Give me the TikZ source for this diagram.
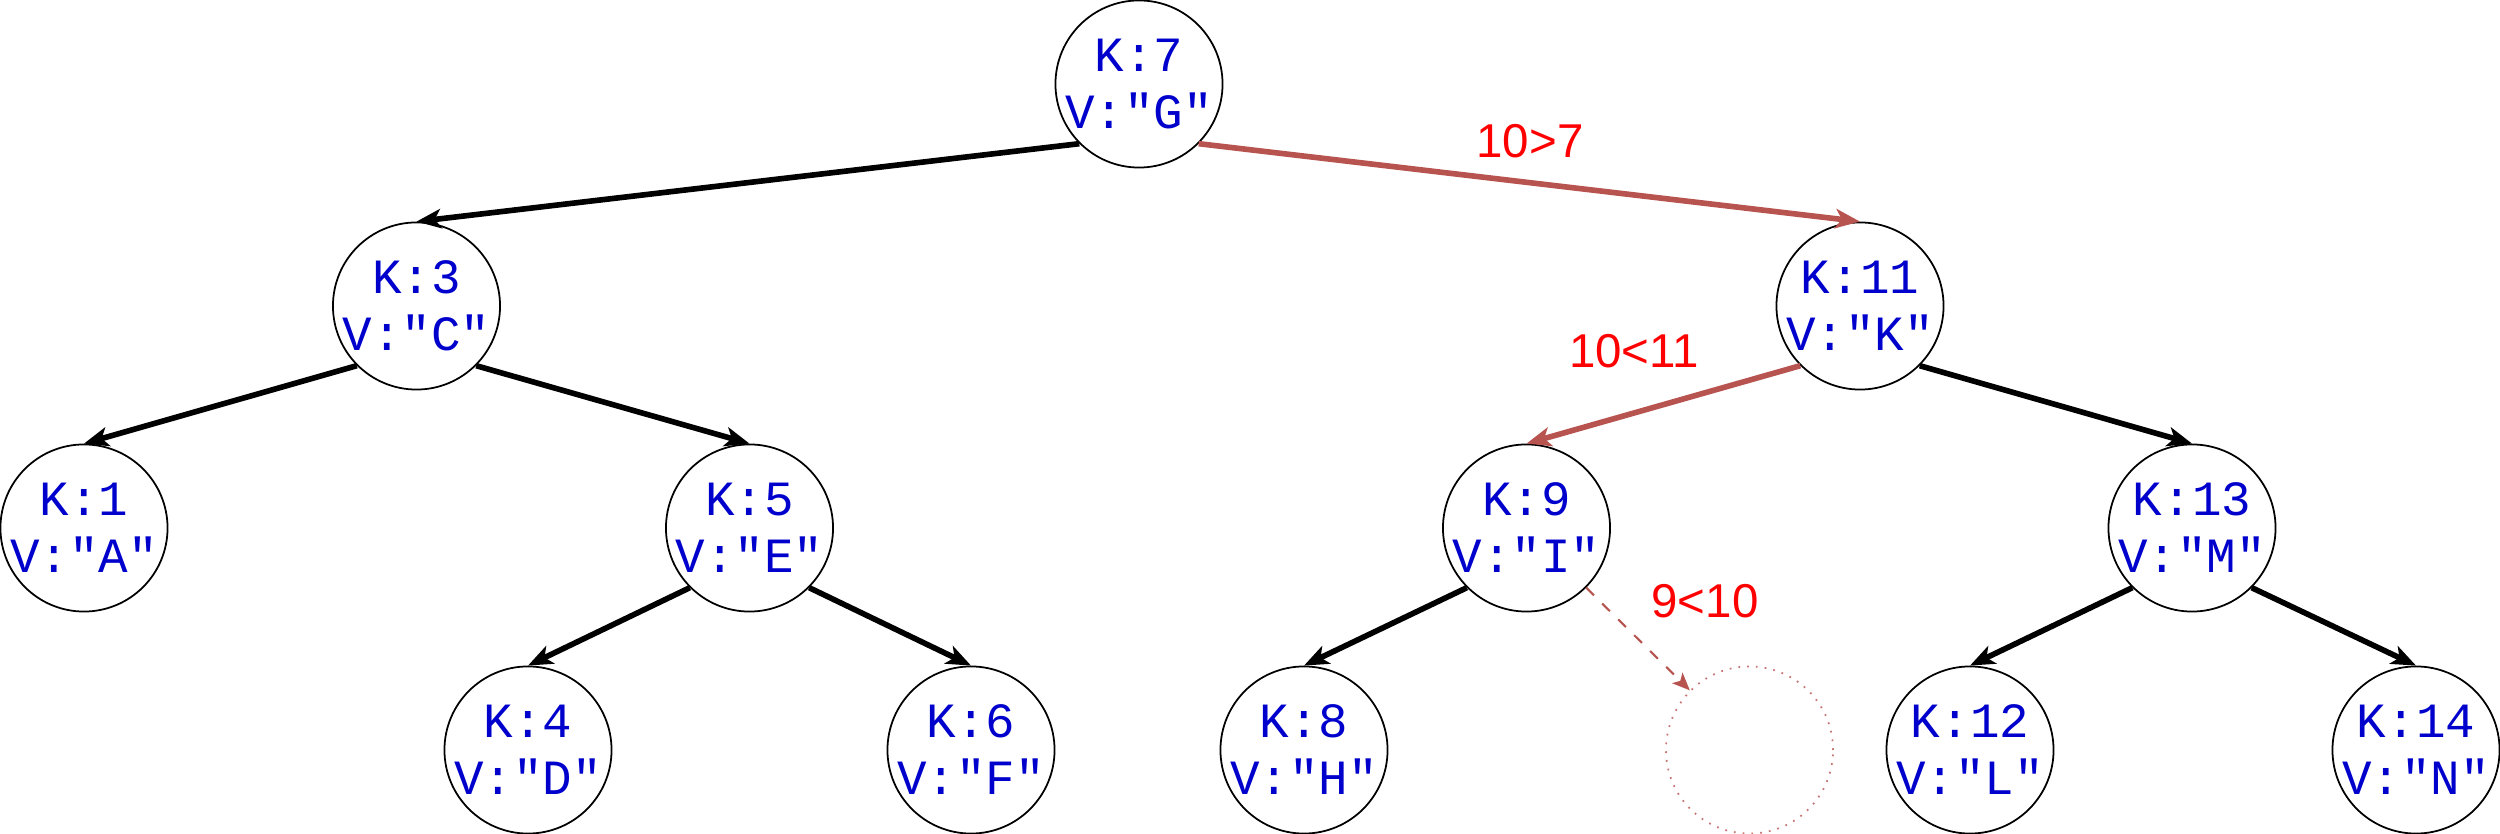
\documentclass[tikz,border=0pt]{standalone}
\usepackage{fontspec}
\setmainfont{Liberation Sans}
\setmonofont{Liberation Mono}
\usetikzlibrary{arrows.meta}
\definecolor{keyblue}{HTML}{0000CC}
\definecolor{pathred}{HTML}{B85450}
\definecolor{lblred}{HTML}{FF0000}
\begin{document}
\begin{tikzpicture}[x=0.01cm,y=-0.01cm,
  treenode/.style={circle,draw=black,line width=0.5pt,minimum size=1.67cm,inner sep=-10pt,
    align=center,font=\ttfamily\fontsize{14}{16.2}\selectfont,text=keyblue},
  emptynode/.style={circle,draw=pathred!80,dotted,line width=0.5pt,minimum size=1.67cm,inner sep=0pt},
  edge/.style={line width=1.6pt,draw=black,-{Stealth[length=7pt,width=5.5pt,inset=1.8pt]}},
  pathedge/.style={line width=1.6pt,draw=pathred,-{Stealth[length=7pt,width=5.5pt,inset=1.8pt]}},
  probe/.style={line width=0.6pt,draw=pathred,dash pattern=on 3.1pt off 3.3pt,-{Stealth[length=5pt,width=4.2pt,inset=1.2pt]}},
  cmp/.style={font=\fontsize{13.5}{16}\selectfont,text=lblred,inner sep=0pt}]
\useasboundingbox (0,0) rectangle (2500,834);
\node[treenode] (n7) at (1139,84) {K:7\\V:"G"};
\node[treenode] (n3) at (416.5,306) {K:3\\V:"C"};
\node[treenode] (n11) at (1860,306) {K:11\\V:"K"};
\node[treenode] (n1) at (84,528) {K:1\\V:"A"};
\node[treenode] (n5) at (749.5,528) {K:5\\V:"E"};
\node[treenode] (n9) at (1526.5,528) {K:9\\V:"I"};
\node[treenode] (n13) at (2192,528) {K:13\\V:"M"};
\node[treenode] (n4) at (528,750) {K:4\\V:"D"};
\node[treenode] (n6) at (971,750) {K:6\\V:"F"};
\node[treenode] (n8) at (1304,750) {K:8\\V:"H"};
\node[emptynode] (ne) at (1749.5,750) {};
\node[treenode] (n12) at (1970,750) {K:12\\V:"L"};
\node[treenode] (n14) at (2416,750) {K:14\\V:"N"};
\draw[edge] (n7.south west) -- (n3.north);
\draw[pathedge] (n7.south east) -- (n11.north);
\draw[edge] (n3.south west) -- (n1.north);
\draw[edge] (n3.south east) -- (n5.north);
\draw[pathedge] (n11.south west) -- (n9.north);
\draw[edge] (n11.south east) -- (n13.north);
\draw[edge] (n5.south west) -- (n4.north);
\draw[edge] (n5.south east) -- (n6.north);
\draw[edge] (n9.south west) -- (n8.north);
\draw[probe] (n9.south east) -- (ne.north west);
\draw[edge] (n13.south west) -- (n12.north);
\draw[edge] (n13.south east) -- (n14.north);
\node[cmp] (c1) at (1530,141) {10>7};
\node[cmp] (c2) at (1634,351) {10<11};
\node[cmp] (c3) at (1705,601) {9<10};
\end{tikzpicture}
\end{document}
